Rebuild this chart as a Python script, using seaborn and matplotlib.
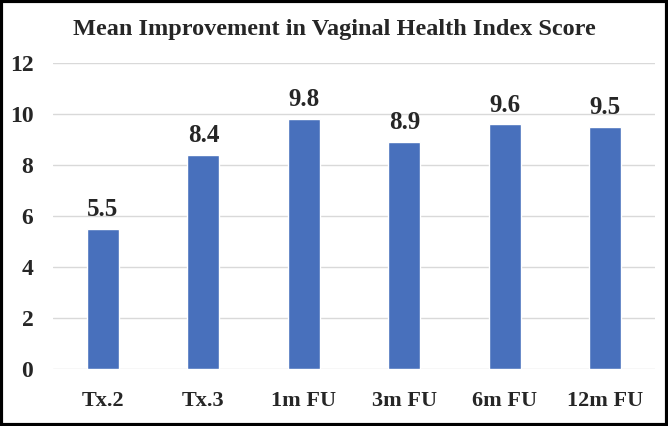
import matplotlib
matplotlib.use("Agg")
import matplotlib.pyplot as plt
import seaborn as sns
import pandas as pd
from matplotlib.patches import Rectangle

# data
categories = ["Tx.2", "Tx.3", "1m FU", "3m FU", "6m FU", "12m FU"]
values = [5.5, 8.4, 9.8, 8.9, 9.6, 9.5]
yticks = [0, 2, 4, 6, 8, 10, 12]

sns.set_style("white")
plt.rcParams['font.family'] = ['Liberation Serif', 'DejaVu Serif']

df = pd.DataFrame({"time": categories, "score": values})

fig = plt.figure(figsize=(6.68, 4.26), dpi=100)
ax = fig.add_axes([0.079, 0.134, 0.902, 0.718])

sns.barplot(data=df, x="time", y="score", color="#4870BC", saturation=1,
            width=0.32, ax=ax, zorder=3)

ax.set_ylim(0, 12)
ax.set_yticks(yticks)
ax.yaxis.grid(True, color="#D9D9D9", linewidth=1, zorder=0)
ax.set_axisbelow(True)
for s in ax.spines.values():
    s.set_visible(False)
ax.tick_params(axis="y", length=0, labelsize=17, pad=14)
ax.tick_params(axis="x", length=0, labelsize=16, pad=16)
for lbl in ax.get_xticklabels() + ax.get_yticklabels():
    lbl.set_fontweight("bold")
ax.set_xlabel("")
ax.set_ylabel("")

for i, v in enumerate(values):
    ax.text(i, v + 0.3, f"{v:.1f}", ha="center", va="bottom",
            fontsize=18, fontweight="bold")

fig.text(0.5, 0.93, "Mean Improvement in Vaginal Health Index Score",
         ha="center", va="center", fontsize=17.5, fontweight="bold")

fig.patches.append(Rectangle((0.002, 0.003), 0.996, 0.994, transform=fig.transFigure,
                             fill=False, edgecolor="black", linewidth=3))

fig.savefig("out.png", dpi=100)
